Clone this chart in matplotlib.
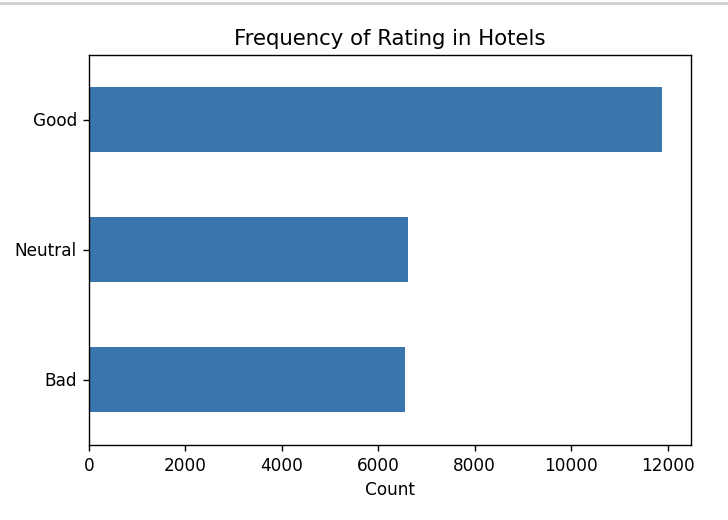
import matplotlib
matplotlib.use("Agg")
import matplotlib.pyplot as plt

ratings = ["Bad", "Neutral", "Good"]
counts = [6550, 6625, 11890]

fig = plt.figure(figsize=(7.28, 5.2), dpi=100)
ax = fig.add_axes([89/728, 1-444.5/520, (691-89)/728, (444.5-54.5)/520])

ax.barh(range(len(ratings)), counts, height=0.5, color="#3a76ae")
ax.set_yticks(range(len(ratings)))
ax.set_yticklabels(ratings, fontsize=12.2)
ax.set_ylim(-0.5, len(ratings)-0.5)
ax.set_xlim(0, max(counts)*1.05)
ax.tick_params(axis="both", labelsize=12.2, length=4.3, pad=4.5, width=1)
for s in ax.spines.values():
    s.set_linewidth(1)
ax.set_xlabel("Count", fontsize=12.2, labelpad=4.5)
ax.set_title("Frequency of Rating in Hotels", fontsize=15.3, pad=7)

# notebook cell border at the top
fig.add_artist(plt.Line2D([0, 1], [1-3/520, 1-3/520], color="#d0d0d0", lw=2))

fig.savefig("out.png", dpi=100)
